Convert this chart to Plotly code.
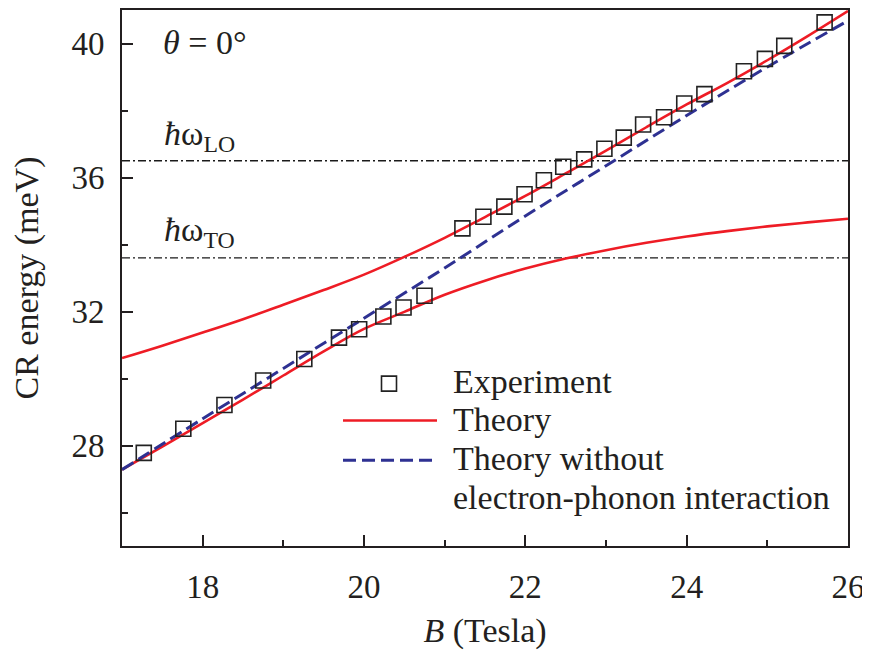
import plotly.graph_objects as go

# ---------------- data ----------------
B_exp = [17.27, 17.76, 18.27, 18.75, 19.26, 19.69, 19.94, 20.24, 20.49, 20.75,
         21.22, 21.48, 21.74, 21.99, 22.23, 22.47, 22.73, 22.98, 23.22, 23.46,
         23.72, 23.97, 24.22, 24.71, 24.97, 25.21, 25.71]
E_exp = [27.78, 28.50, 29.21, 29.94, 30.58, 31.22, 31.47, 31.85, 32.12, 32.47,
         34.48, 34.83, 35.13, 35.50, 35.92, 36.32, 36.54, 36.86, 37.19, 37.58,
         37.80, 38.21, 38.49, 39.17, 39.54, 39.93, 40.63]

B_theory = [17.0, 17.5, 18.0, 18.5, 19.0, 19.5, 20.0, 20.5, 21.0, 21.5,
            22.0, 22.5, 23.0, 23.5, 24.0, 24.5, 25.0, 25.5, 26.0]
E_theory_upper = [30.61, 30.98, 31.37, 31.77, 32.20, 32.64, 33.10, 33.63, 34.20, 34.82,
                  35.45, 36.12, 36.80, 37.50, 38.18, 38.82, 39.50, 40.22, 40.97]
E_theory_lower = [27.28, 27.97, 28.67, 29.37, 30.09, 30.81, 31.48, 31.99, 32.50, 32.92,
                  33.28, 33.58, 33.83, 34.05, 34.24, 34.40, 34.54, 34.66, 34.77]

B_nophonon = [17, 18, 19, 20, 21, 22, 23, 24, 25, 26]
E_nophonon = [27.28, 28.80, 30.30, 31.80, 33.30, 34.85, 36.35, 37.85, 39.30, 40.68]

E_LO = 36.5
E_TO = 33.6
B_range = [17, 26]

x_tickvals = [18, 20, 22, 24, 26]
y_tickvals = [28, 32, 36, 40]

legend_labels = ["Experiment", "Theory", "Theory without", "electron-phonon interaction"]

# ---------------- styling ----------------
RED = "#ee1c25"
BLUE = "#2e3192"
INK = "#231f20"
FONT = "Liberation Serif"

OFF = 8  # page body margin offset
W, H = 870 - OFF, 650 - OFF
L, R, T, Bm = 122 - OFF, 848 - OFF, 8 - OFF, 546 - OFF


def px(x):
    return (x - OFF - L) / (R - L)


def py(y):
    return (Bm - (y - OFF)) / (Bm - T)


fig = go.Figure()

for e in (E_LO, E_TO):
    fig.add_trace(go.Scatter(x=B_range, y=[e, e], mode="lines",
                             line=dict(color="#1a1a1a", width=1.3, dash="8px,3px,2px,3px"),
                             showlegend=False, hoverinfo="skip"))

fig.add_trace(go.Scatter(x=B_theory, y=E_theory_upper, mode="lines",
                         line=dict(color=RED, width=2.6, shape="spline"), showlegend=False))
fig.add_trace(go.Scatter(x=B_theory, y=E_theory_lower, mode="lines",
                         line=dict(color=RED, width=2.6, shape="spline"), showlegend=False))
fig.add_trace(go.Scatter(x=B_nophonon, y=E_nophonon, mode="lines",
                         line=dict(color=BLUE, width=3, dash="13px,6px", shape="spline"),
                         showlegend=False))
fig.add_trace(go.Scatter(x=B_exp, y=E_exp, mode="markers",
                         marker=dict(symbol="square-open", size=15, color="#222222",
                                     line=dict(width=1.6, color="#222222")),
                         showlegend=False))

shapes = [
    dict(type="rect", xref="paper", yref="paper",
         x0=px(381.5), x1=px(396.5), y0=py(390.5), y1=py(375.5),
         line=dict(color="#222222", width=1.6)),
    dict(type="line", xref="paper", yref="paper",
         x0=px(343), x1=px(437), y0=py(420), y1=py(420),
         line=dict(color=RED, width=2.6)),
    dict(type="line", xref="paper", yref="paper",
         x0=px(343), x1=px(437), y0=py(460), y1=py(460),
         line=dict(color=BLUE, width=3, dash="13px,6px")),
]

ann_font = dict(family=FONT, size=34, color=INK)
annotations = []
for text, yc in zip(legend_labels, [381, 419, 458, 497]):
    annotations.append(dict(text=text, xref="paper", yref="paper", x=px(451), y=py(yc),
                            xanchor="left", yanchor="middle", showarrow=False, font=ann_font))

annotations += [
    dict(text="<i>θ</i> = 0°", xref="paper", yref="paper", x=px(161), y=py(41),
         xanchor="left", yanchor="middle", showarrow=False, font=ann_font),
    dict(text="<i>ħ</i>ω<sub>LO</sub>", xref="paper", yref="paper", x=px(162), y=py(134),
         xanchor="left", yanchor="middle", showarrow=False, font=ann_font),
    dict(text="<i>ħ</i>ω<sub>TO</sub>", xref="paper", yref="paper", x=px(162), y=py(231),
         xanchor="left", yanchor="middle", showarrow=False, font=ann_font),
]

axis_common = dict(
    showline=True, linewidth=2, linecolor=INK, mirror=True,
    ticks="inside", ticklen=11, tickwidth=2, tickcolor=INK,
    showgrid=False, zeroline=False,
    tickfont=dict(family=FONT, size=33, color=INK),
)

fig.update_xaxes(range=B_range, tickvals=x_tickvals, ticklabelstandoff=10,
                 minor=dict(ticks="inside", ticklen=6, tickwidth=2, tickcolor=INK, dtick=1, tick0=17),
                 title=dict(text="<i>B</i> (Tesla)", font=dict(family=FONT, size=34, color=INK),
                            standoff=18),
                 **axis_common)
fig.update_yaxes(range=[25, 41], tickvals=y_tickvals, ticklabelstandoff=9,
                 minor=dict(ticks="inside", ticklen=6, tickwidth=2, tickcolor=INK, dtick=2, tick0=26),
                 title=dict(text="CR energy (meV)", font=dict(family=FONT, size=34, color=INK),
                            standoff=30),
                 **axis_common)

fig.update_layout(
    width=W, height=H,
    margin=dict(l=L, r=W - R, t=T, b=H - Bm),
    paper_bgcolor="white", plot_bgcolor="white",
    shapes=shapes, annotations=annotations,
    showlegend=False,
    font=dict(family=FONT, color=INK),
)

fig.write_html("out.html")
